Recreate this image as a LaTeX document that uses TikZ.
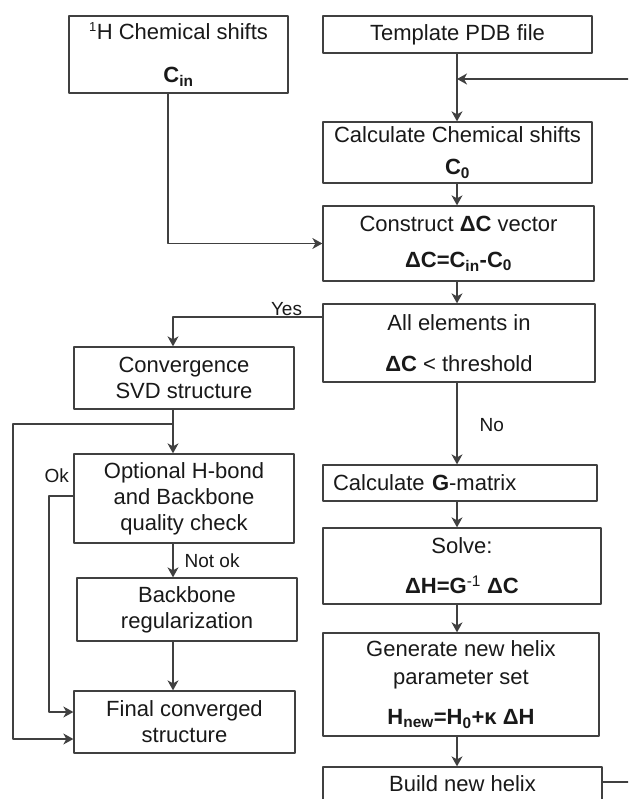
\documentclass[tikz,border=0pt]{standalone}
\usepackage{fontspec}
\setmainfont{Liberation Sans}
\usetikzlibrary{arrows.meta}
\tikzset{
  box/.style={draw=black!75, line width=1.3pt, fill=white, align=center, inner sep=0pt, text=black!90},
  arr/.style={draw=black!75, line width=1.3pt, -{Stealth[length=10pt,width=11pt,inset=3pt]}},
  lbl/.style={font=\fontsize{19}{22}\selectfont, inner sep=1pt, text=black!90}
}
\begin{document}
\begin{tikzpicture}[x=1pt,y=-1pt,line join=round,font=\fontsize{22}{26}\selectfont]
  \useasboundingbox (0,0) rectangle (628,799);
  \clip (0,0) rectangle (628,799);
  \coordinate (lspine) at (173,0);
  \coordinate (rspine) at (457,0);
  \coordinate (outer) at (13,0);
  \coordinate (inner) at (49,0);
  \coordinate (split) at (173,424);
  \coordinate (join) at (457,79);
  % right column
  \node[box,minimum width=219pt,minimum height=77pt] (shifts) at (178.5,54.5)
    {\textsuperscript{\fontsize{13}{13}\selectfont 1}H Chemical shifts\\[17pt]\textbf{C\textsubscript{in}}};
  \node[box,minimum width=269pt,minimum height=37pt] (template) at (457.5,34.5) {Template PDB file};
  \node[box,minimum width=269pt,minimum height=61pt] (calccs) at (457.5,152.5)
    {Calculate Chemical shifts\\[6pt]\textbf{C\textsubscript{0}}};
  \node[box,minimum width=271pt,minimum height=75pt] (construct) at (458.5,243.5)
    {Construct \textbf{ΔC} vector\\[10pt]\textbf{ΔC=C\textsubscript{in}-C\textsubscript{0}}};
  \node[box,minimum width=272pt,minimum height=78pt] (allel) at (459,343)
    {All elements in\\[15pt]\textbf{ΔC} < threshold};
  \node[box,minimum width=274pt,minimum height=36pt,align=left,text width=254pt] (gmat) at (460,483)
    {Calculate \textbf{G}-matrix};
  \node[box,minimum width=278pt,minimum height=76pt] (solve) at (462,566)
    {Solve:\\[14pt]\textbf{ΔH=G\textsuperscript{\mdseries -1} ΔC}};
  \node[box,minimum width=276pt,minimum height=103pt] (generate) at (461,684.5)
    {Generate new helix\\[2pt]parameter set\\[14pt]\textbf{H\textsubscript{new}=H\textsubscript{0}+κ ΔH}};
  \node[box,minimum width=279pt,minimum height=40pt,text depth=6pt] (build) at (462.5,787) {Build new helix};
  % left column
  \node[box,minimum width=220pt,minimum height=62pt] (conv) at (184,378) {Convergence\\SVD structure};
  \node[box,minimum width=220pt,minimum height=89pt] (optional) at (184,498.5)
    {Optional H-bond\\and Backbone\\quality check};
  \node[box,minimum width=220pt,minimum height=63pt] (backbone) at (187,609.5) {Backbone\\regularization};
  \node[box,minimum width=221pt,minimum height=62pt] (final) at (184.5,722) {Final converged\\structure};
  % connectors
  \draw[arr] (template.south -| rspine) -- (calccs.north -| rspine);
  \draw[arr] ([yshift=5pt]build.east) -- ++(40,0) |- (join);
  \draw[arr] (calccs.south -| rspine) -- (construct.north -| rspine);
  \draw[arr] ([xshift=-10.5pt]shifts.south) |- (construct.west);
  \draw[arr] (construct.south -| rspine) -- (allel.north -| rspine);
  \draw[arr] ([yshift=26pt]allel.west) -| (conv.north -| lspine)
    node[lbl,above,pos=0.12] (yes) {Yes};
  \draw[arr] (allel.south -| rspine) -- (gmat.north -| rspine)
    node[lbl,right=21pt,pos=0.52] (no) {No};
  \draw[arr] (gmat.south -| rspine) -- (solve.north -| rspine);
  \draw[arr] (solve.south -| rspine) -- (generate.north -| rspine);
  \draw[arr] (generate.south -| rspine) -- (build.north -| rspine);
  \draw[arr] (conv.south -| lspine) -- (optional.north -| lspine);
  \draw[arr] (split) -- (split -| outer) |- ([yshift=-17pt]final.west);
  \draw[arr] ([yshift=2.5pt]optional.west) -- ([yshift=2.5pt]optional.west -| inner)
    node[lbl,above=12pt,pos=0.68] (ok) {Ok} |- ([yshift=10pt]final.west);
  \draw[arr] (optional.south -| lspine) -- (backbone.north -| lspine)
    node[lbl,right=10pt,pos=0.5] (notok) {Not ok};
  \draw[arr] (backbone.south -| lspine) -- (final.north -| lspine);
\end{tikzpicture}
\end{document}
